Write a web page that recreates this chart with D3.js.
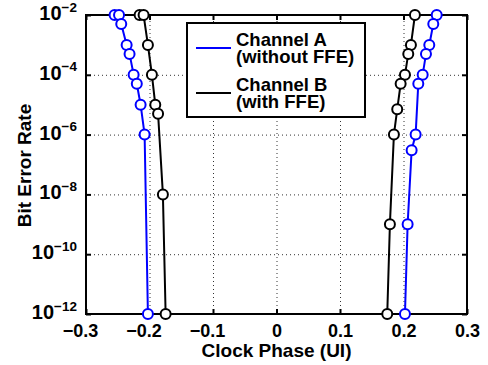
<!DOCTYPE html>
<html>
<head>
<meta charset="utf-8">
<script src="https://cdn.jsdelivr.net/npm/d3@7"></script>
<style>
  body { margin: 0; background: #fff; }
  text { font-family: "Liberation Sans", Arial, sans-serif; font-weight: bold; }
</style>
</head>
<body>
<script>
// channel A (without FFE), left and right edges of the bathtub
const chanA_leftPhase = [-0.255, -0.248, -0.2445, -0.236, -0.2314, -0.225, -0.220, -0.214, -0.2077, -0.2025];
const chanA_leftBer   = [1e-2, 1e-2, 5e-3, 1e-3, 5e-4, 1e-4, 5e-5, 1e-5, 1e-6, 1e-12];
const chanA_rightPhase = [0.2523, 0.2469, 0.2406, 0.2354, 0.2302, 0.2233, 0.2191, 0.2128, 0.2065, 0.2023];
const chanA_rightBer   = [1e-2, 5e-3, 1e-3, 5e-4, 1e-4, 5e-5, 1e-6, 3e-7, 1e-9, 1e-12];

// channel B (with FFE)
const chanB_leftPhase = [-0.2156, -0.2093, -0.2025, -0.1962, -0.1909, -0.1865, -0.1789, -0.1746];
const chanB_leftBer   = [1e-2, 1e-2, 1e-3, 1e-4, 1e-5, 5e-6, 1e-8, 1e-12];
const chanB_rightPhase = [0.218, 0.2117, 0.2075, 0.2023, 0.1955, 0.1901, 0.1849, 0.1786, 0.1744];
const chanB_rightBer   = [1e-2, 1e-3, 5e-4, 1e-4, 5e-5, 7e-6, 1e-6, 1e-9, 1e-12];

const xTicks = [-0.3, -0.2, -0.1, 0, 0.1, 0.2, 0.3];
const yTicks = [1e-12, 1e-10, 1e-8, 1e-6, 1e-4, 1e-2];
const legendLabels = [["Channel A", "(without FFE)"], ["Channel B", "(with FFE)"]];
const colors = ["#0000ff", "#000000"];

const outerWidth = 488;
const outerHeight = 365;
const margin = {top: 15, left: 86, bottom: 51, right: 21};
const width = outerWidth - margin.left - margin.right;
const height = outerHeight - margin.top - margin.bottom;

const root = d3.select('body')
  .append('svg')
  .attr('width', outerWidth)
  .attr('height', outerHeight)
  .style('background', '#fff');

const svg = root.append('g')
  .attr('transform', `translate(${margin.left}, ${margin.top})`);

const xScale = d3.scaleLinear().domain([-0.3, 0.3]).range([0, width]);
const yScale = d3.scaleLog().domain([1e-12, 1e-2]).range([height, 0]);

// dotted grid
svg.append("g")
  .attr("class", "grid")
  .attr("transform", `translate(0, ${height})`)
  .call(d3.axisBottom(xScale).tickValues(xTicks).tickSize(-height).tickFormat(""))
svg.append("g")
  .attr("class", "grid")
  .call(d3.axisLeft(yScale).tickValues(yTicks).tickSize(-width).tickFormat(""))
svg.selectAll(".grid .domain").remove()
svg.selectAll(".grid line")
  .attr("stroke", "#333")
  .attr("stroke-width", 1)
  .attr("stroke-dasharray", "1,3")

// axes with inward ticks
const xAxis = svg.append("g")
  .attr("class", "axis x-axis")
  .attr("transform", `translate(0, ${height})`)
  .call(d3.axisBottom(xScale).tickValues(xTicks).tickSizeInner(-5).tickSizeOuter(0).tickPadding(10)
    .tickFormat(d => d === 0 ? "0" : d3.format(".1f")(d).replace("-", "\u2212")))
xAxis.selectAll("text")
  .attr("font-size", 18)
  .attr("fill", "#000")
  .attr("dx", d => d < 0 ? -6 : 0)

svg.append("g")
  .call(d3.axisTop(xScale).tickValues(xTicks).tickSizeInner(-5).tickSizeOuter(0).tickFormat(""))

const yAxis = svg.append("g")
  .attr("class", "axis y-axis")
  .call(d3.axisLeft(yScale).tickValues(yTicks).tickSizeInner(-5).tickSizeOuter(0).tickPadding(9).tickFormat(""))
yAxis.selectAll(".tick text").each(function(d) {
  const t = d3.select(this).attr("fill", "#000").attr("dy", "0.45em");
  t.append("tspan").attr("font-size", 20).text("10");
  t.append("tspan").attr("font-size", 13.5).attr("dy", "-0.62em")
    .text("\u2212" + Math.round(-Math.log10(d)));
})

svg.append("g")
  .attr("transform", `translate(${width}, 0)`)
  .call(d3.axisRight(yScale).tickValues(yTicks).tickSizeInner(-5).tickSizeOuter(0).tickFormat(""))

svg.selectAll(".domain").remove()
svg.selectAll(".tick line").filter(function() { return !this.closest(".grid"); })
  .attr("stroke", "#000").attr("stroke-width", 2)

// frame
svg.append("rect")
  .attr("width", width)
  .attr("height", height)
  .attr("fill", "none")
  .attr("stroke", "#000")
  .attr("stroke-width", 2)

// curves
const series = [
  {phase: chanA_leftPhase, ber: chanA_leftBer, color: colors[0]},
  {phase: chanA_rightPhase, ber: chanA_rightBer, color: colors[0]},
  {phase: chanB_leftPhase, ber: chanB_leftBer, color: colors[1]},
  {phase: chanB_rightPhase, ber: chanB_rightBer, color: colors[1]}
];

const line = d3.line()
  .x(d => xScale(d[0]))
  .y(d => yScale(d[1]));

series.forEach(s => {
  const pts = s.phase.map((p, i) => [p, s.ber[i]]);
  svg.append("path")
    .datum(pts)
    .attr("d", line)
    .attr("fill", "none")
    .attr("stroke", s.color)
    .attr("stroke-width", 2)
  svg.selectAll(null)
    .data(pts)
    .enter()
    .append("circle")
    .attr("cx", d => xScale(d[0]))
    .attr("cy", d => yScale(d[1]))
    .attr("r", 5)
    .attr("fill", "#fff")
    .attr("stroke", s.color)
    .attr("stroke-width", 2)
})

// legend
const legend = root.append("g").attr("transform", "translate(187, 23)");
legend.append("rect")
  .attr("width", 178)
  .attr("height", 94)
  .attr("fill", "#fff")
  .attr("stroke", "#000")
  .attr("stroke-width", 2)
legendLabels.forEach((lab, i) => {
  const yOff = 25 + i * 45;
  legend.append("line")
    .attr("x1", 9).attr("x2", 44)
    .attr("y1", yOff).attr("y2", yOff)
    .attr("stroke", colors[i])
    .attr("stroke-width", 2)
  lab.forEach((txt, j) => {
    legend.append("text")
      .attr("x", 49)
      .attr("y", yOff - 2 + j * 17)
      .attr("font-size", 18.5)
      .text(txt)
  })
})

// axis titles
root.append("text")
  .attr("x", margin.left + width / 2)
  .attr("y", 357)
  .attr("text-anchor", "middle")
  .attr("font-size", 19)
  .text("Clock Phase (UI)")

root.append("text")
  .attr("transform", `translate(31, ${margin.top + height / 2 + 1}) rotate(-90)`)
  .attr("text-anchor", "middle")
  .attr("font-size", 19)
  .text("Bit Error Rate")
</script>
</body>
</html>
